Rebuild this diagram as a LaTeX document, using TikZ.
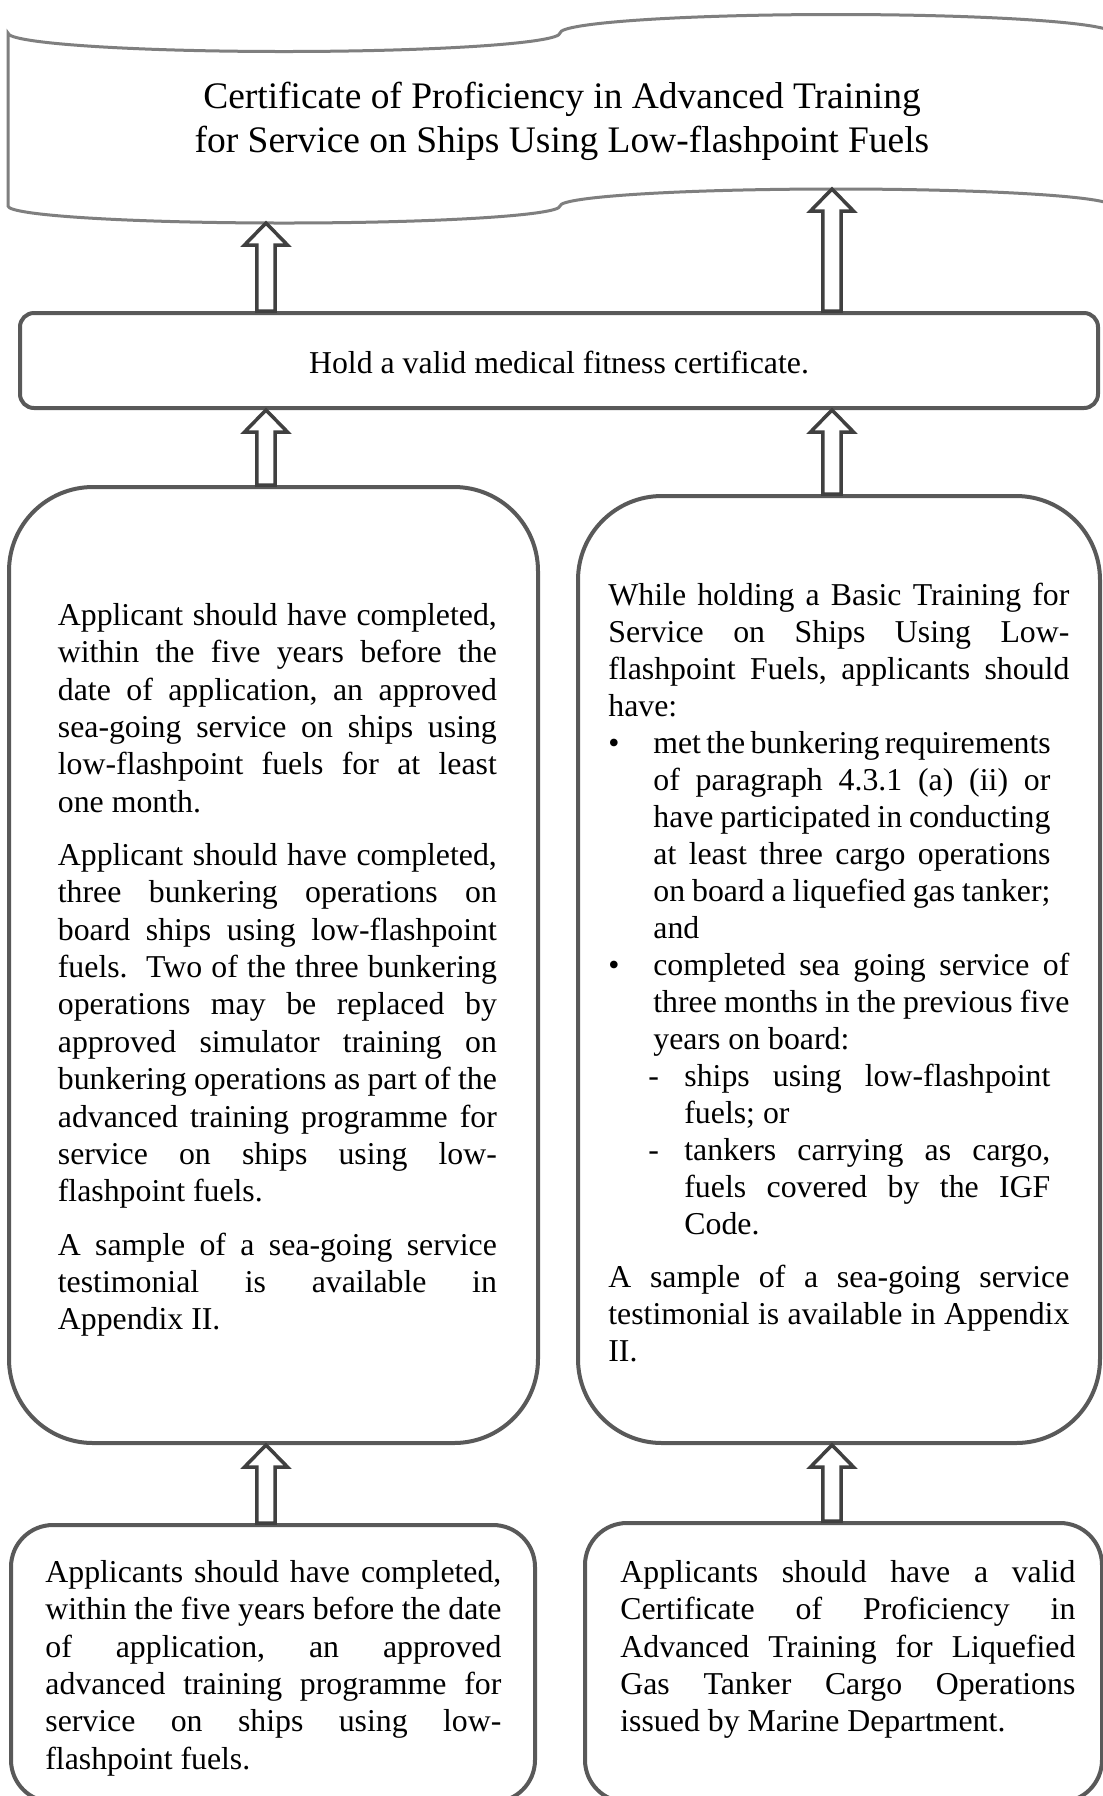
\documentclass[tikz,border=0pt]{standalone}
\usepackage{fontspec}
\setmainfont{Liberation Serif}
\usetikzlibrary{fit,calc}
\definecolor{wavegray}{RGB}{127,127,127}
\definecolor{boxgray}{RGB}{89,89,89}
\definecolor{arrgray}{RGB}{64,64,64}
\newdimen\upx \upx=0.5pt
\newcommand\bodyfont{\fontsize{15.9}{18.675}\selectfont}
\newcommand\bodyfontR{\fontsize{15.9}{18.5}\selectfont}
\newcommand\titlefont{\fontsize{18.73}{22}\selectfont}
% justified line: left indent, right indent, text
\newcommand\jl[3]{\hbox to \hsize{\strut\hskip #1\upx\relax\hbox to \dimexpr\hsize-#1\upx-#2\upx\relax{#3}\hss}}
% justified line with marker: left indent, right indent, text, marker position, marker
\newcommand\jlm[5]{\hbox to \hsize{\strut\rlap{\hskip #4\upx\relax #5}\hskip #1\upx\relax\hbox to \dimexpr\hsize-#1\upx-#2\upx\relax{#3}\hss}}
% ragged (last) line: left indent, text
\newcommand\rl[2]{\hbox to \hsize{\strut\hskip #1\upx\relax #2\hss}}
\newcommand\barrow[2]{\draw[arrowline] let \p1=(#1), \p2=(#2) in
  (\x2,\y2) -- (\x2+10.75pt,\y2-11pt) -- (\x2+4.6pt,\y2-11pt) -- (\x2+4.6pt,\y1)
  -- (\x2-4.6pt,\y1) -- (\x2-4.6pt,\y2-11pt) -- (\x2-10.75pt,\y2-11pt) -- cycle;}
\begin{document}
\begin{tikzpicture}[x=0.5pt,y=-0.5pt,
  wave/.style={draw=wavegray, line width=1.5pt},
  box/.style={draw=boxgray, line width=2pt, inner sep=0pt},
  txt/.style={inner sep=0pt, anchor=north west, font=\bodyfont},
  txtR/.style={inner sep=0pt, anchor=north west, font=\bodyfontR},
  arrowline/.style={draw=arrgray, fill=white, line width=1.75pt, line join=miter}]
\useasboundingbox (0,0) rectangle (1103,1796);
\fill[white] (0,0) rectangle (1103,1796);

% wave (punched tape) shape
\draw[wave] (8,33) arc[start angle=180, end angle=0, x radius=276, y radius=18.5]
  arc[start angle=180, end angle=360, x radius=276, y radius=18.5]
  -- (1112,206) arc[start angle=360, end angle=180, x radius=276, y radius=17]
  arc[start angle=0, end angle=180, x radius=276, y radius=17] -- cycle;
\node[inner sep=0pt, anchor=north, font=\titlefont] (title) at (562,77.2) {\vbox{%
  \hbox to 900\upx{\hss\strut Certificate of Proficiency in Advanced Training\hss}%
  \hbox to 900\upx{\hss\strut for Service on Ships Using Low-flashpoint Fuels\hss}}};

% boxes
\node[box, fit={(20,313) (1098,408)}, rounded corners=7pt] (med) {};
\node[box, fit={(9,487) (538,1443)}, rounded corners=42pt] (lm) {};
\node[box, fit={(578,496) (1100,1443)}, rounded corners=42pt] (rm) {};
\node[box, fit={(11,1525) (535,1802)}, rounded corners=21pt] (lb) {};
\node[box, fit={(585,1523) (1102,1802)}, rounded corners=21pt] (rb) {};

\node[inner sep=0pt, anchor=base, font=\bodyfont] (medtext) at (559,373) {Hold a valid medical fitness certificate.};

\node[txt] (lmtext) at (57.5,598.9) {\vbox{\hsize=439\upx\frenchspacing
  \jl{0}{0}{Applicant should have completed,}
  \jl{0}{0}{within the five years before the}
  \jl{0}{0}{date of application, an approved}
  \jl{0}{0}{sea-going service on ships using}
  \jl{0}{0}{low-flashpoint fuels for at least}
  \rl{0}{one month.}
  \vskip 16\upx
  \jl{0}{0}{Applicant should have completed,}
  \jl{0}{0}{three bunkering operations on}
  \jl{0}{0}{board ships using low-flashpoint}
  \jl{0}{0}{fuels.\ \ Two of the three bunkering}
  \jl{0}{0}{operations may be replaced by}
  \jl{0}{0}{approved simulator training on}
  \jl{0}{0}{bunkering operations as part of the}
  \jl{0}{0}{advanced training programme for}
  \jl{0}{0}{service on ships using low-}
  \rl{0}{flashpoint fuels.}
  \vskip 16\upx
  \jl{0}{0}{A sample of a sea-going service}
  \jl{0}{0}{testimonial is available in}
  \rl{0}{Appendix II.}}};

\node[txtR] (rmtext) at (608,579.1) {\vbox{\hsize=461\upx\frenchspacing
  \jl{0}{0}{While holding a Basic Training for}
  \jl{0}{0}{Service on Ships Using Low-}
  \jl{0}{0}{flashpoint Fuels, applicants should}
  \rl{0}{have:}
  \jlm{45}{19}{met the bunkering requirements}{0}{•}
  \jl{45}{19}{of paragraph 4.3.1 (a) (ii) or}
  \jl{45}{19}{have participated in conducting}
  \jl{45}{19}{at least three cargo operations}
  \jl{45}{19}{on board a liquefied gas tanker;}
  \rl{45}{and}
  \jlm{45}{0}{completed sea going service of}{0}{•}
  \jl{45}{0}{three months in the previous five}
  \rl{45}{years on board:}
  \jlm{76}{19}{ships using low-flashpoint}{40}{-}
  \rl{76}{fuels; or}
  \jlm{76}{19}{tankers carrying as cargo,}{40}{-}
  \jl{76}{19}{fuels covered by the IGF}
  \rl{76}{Code.}
  \vskip 16\upx
  \jl{0}{0}{A sample of a sea-going service}
  \jl{0}{0}{testimonial is available in Appendix}
  \rl{0}{II.}}};

\node[txt] (lbtext) at (45,1555.9) {\vbox{\hsize=456\upx\frenchspacing
  \jl{0}{0}{Applicants should have completed,}
  \jl{0}{0}{within the five years before the date}
  \jl{0}{0}{of application, an approved}
  \jl{0}{0}{advanced training programme for}
  \jl{0}{0}{service on ships using low-}
  \rl{0}{flashpoint fuels.}}};

\node[txt] (rbtext) at (620,1555.9) {\vbox{\hsize=455\upx\frenchspacing
  \jl{0}{0}{Applicants should have a valid}
  \jl{0}{0}{Certificate of Proficiency in}
  \jl{0}{0}{Advanced Training for Liquefied}
  \jl{0}{0}{Gas Tanker Cargo Operations}
  \rl{0}{issued by Marine Department.}}};

% block arrows
\coordinate (xl) at (266,0);
\coordinate (xr) at (832,0);
\coordinate (wl) at (266,223);
\coordinate (wr) at (832,189);
\barrow{xl |- med.north}{wl}
\barrow{xr |- med.north}{wr}
\barrow{xl |- lm.north}{xl |- med.south}
\barrow{xr |- rm.north}{xr |- med.south}
\barrow{xl |- lb.north}{xl |- lm.south}
\barrow{xr |- rb.north}{xr |- rm.south}
\end{tikzpicture}
\end{document}
